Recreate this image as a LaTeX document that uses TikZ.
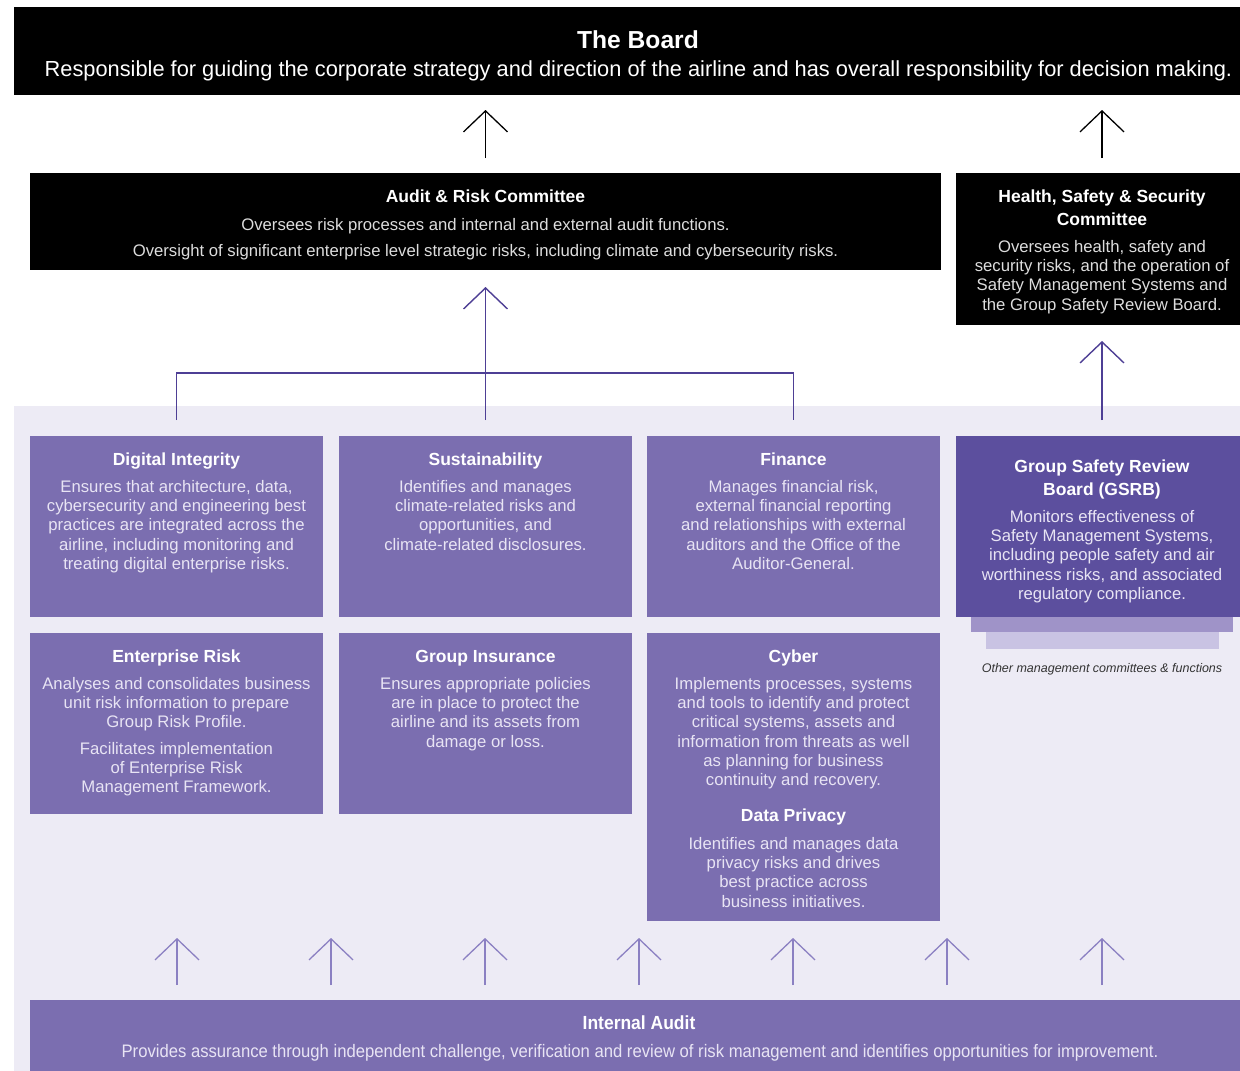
\documentclass[tikz,border=0pt]{standalone}
\usepackage{fontspec}
\setmainfont{Liberation Sans}
\newfontfamily\narrowfont[FakeStretch=0.92]{Liberation Sans}
\usetikzlibrary{arrows.meta}
\definecolor{lav}{HTML}{EDEBF5}
\definecolor{boxp}{HTML}{7B6EB0}
\definecolor{darkp}{HTML}{5C4F9E}
\definecolor{stackA}{HTML}{9F93C8}
\definecolor{stackB}{HTML}{C9C3E3}
\definecolor{connp}{HTML}{4E3F95}
\definecolor{lightconn}{HTML}{8B80C2}
\definecolor{ptext}{HTML}{E8E4F4}
\definecolor{btext}{HTML}{DDDDDD}
\definecolor{capgray}{HTML}{333333}
\tikzset{
  rect/.style={rectangle, inner sep=0pt, outer sep=0pt, anchor=north west, draw=none},
  ttl/.style={font=\bfseries\fontsize{17.5}{23}\selectfont, text=white, align=center, inner sep=0pt},
  bdy/.style={font=\fontsize{16.7}{19.3}\selectfont, text=ptext, align=center, inner sep=0pt, anchor=north},
  bdyk/.style={bdy, text=btext},
  tip/.style={-{Straight Barb[length=21pt,width=44pt]}},
  karrow/.style={tip, draw=black, line width=1.3pt},
  pconn/.style={draw=connp, line width=1.4pt},
  lconn/.style={tip, draw=lightconn, line width=1.3pt}
}
\begin{document}
\begin{tikzpicture}[x=1pt,y=-1pt]
\useasboundingbox (0,0) rectangle (1240,1071);
\fill[white] (0,0) rectangle (1240,1071);

% The Board
\node[rect, fill=black, minimum width=1248pt, minimum height=88pt] (board) at (14,7) {};
\node[font=\bfseries\fontsize{24.6}{30}\selectfont, text=white, anchor=base, inner sep=0pt] (boardT) at (638,48) {The Board};
\node[font=\fontsize{21.8}{26}\selectfont, text=white, anchor=base, inner sep=0pt] (boardS) at (638.5,76) {Responsible for guiding the corporate strategy and direction of the airline and has overall responsibility for decision making.};

% Audit & Risk Committee
\node[rect, fill=black, minimum width=911pt, minimum height=97pt] (arc) at (30,173) {};
\node[ttl, anchor=base] (arcT) at (485.5,202.3) {Audit \& Risk Committee};
\node[bdyk, font=\fontsize{16.7}{26}\selectfont] (arcB) at (485.5,218) {Oversees risk processes and internal and external audit functions.\\Oversight of significant enterprise level strategic risks, including climate and cybersecurity risks.};

% Health, Safety & Security Committee
\node[rect, fill=black, minimum width=292pt, minimum height=152pt] (hss) at (956,173) {};
\node[ttl, anchor=north] (hssT) at (1102,189.5) {Health, Safety \& Security\\Committee};
\node[bdyk] (hssB) at (1102,240) {Oversees health, safety and\\security risks, and the operation of\\Safety Management Systems and\\the Group Safety Review Board.};

% management area
\node[rect, fill=lav, minimum width=1234pt, minimum height=670pt] (mgmt) at (14,406) {};

% row 1
\node[rect, fill=boxp, minimum width=293pt, minimum height=181pt] (di) at (30,436) {};
\node[rect, fill=boxp, minimum width=293pt, minimum height=181pt] (su) at (339,436) {};
\node[rect, fill=boxp, minimum width=293pt, minimum height=181pt] (fi) at (647,436) {};
\node[rect, fill=stackB, minimum width=233pt, minimum height=17pt] (stk2) at (986,632) {};
\node[rect, fill=stackA, minimum width=262pt, minimum height=15pt] (stk1) at (971,617) {};
\node[rect, fill=darkp, minimum width=292pt, minimum height=181pt] (gsrb) at (956,436) {};

\node[ttl, anchor=base] (diT) at (176.5,465.3) {Digital Integrity};
\node[bdy] (diB) at (176.5,480) {Ensures that architecture, data,\\cybersecurity and engineering best\\practices are integrated across the\\airline, including monitoring and\\treating digital enterprise risks.};

\node[ttl, anchor=base] (suT) at (485.5,465.3) {Sustainability};
\node[bdy] (suB) at (485.5,480) {Identifies and manages\\climate-related risks and\\opportunities, and\\climate-related disclosures.};

\node[ttl, anchor=base] (fiT) at (793.5,465.3) {Finance};
\node[bdy] (fiB) at (793.5,480) {Manages financial risk,\\external financial reporting\\and relationships with external\\auditors and the Office of the\\Auditor-General.};

\node[ttl, anchor=north] (gsrbT) at (1102,459.5) {Group Safety Review\\Board (GSRB)};
\node[bdy] (gsrbB) at (1102,510) {Monitors effectiveness of\\Safety Management Systems,\\including people safety and air\\worthiness risks, and associated\\regulatory compliance.};

\node[font=\itshape\fontsize{12.5}{15}\selectfont, text=capgray, anchor=base, inner sep=0pt] (cap) at (1102,672.5) {Other management committees \& functions};

% row 2
\node[rect, fill=boxp, minimum width=293pt, minimum height=181pt] (er) at (30,633) {};
\node[rect, fill=boxp, minimum width=293pt, minimum height=181pt] (gi) at (339,633) {};
\node[rect, fill=boxp, minimum width=293pt, minimum height=288pt] (cy) at (647,633) {};

\node[ttl, anchor=base] (erT) at (176.5,662.3) {Enterprise Risk};
\node[bdy] (erB1) at (176.5,677) {Analyses and consolidates business\\unit risk information to prepare\\Group Risk Profile.};
\node[bdy] (erB2) at (176.5,742) {Facilitates implementation\\of Enterprise Risk\\Management Framework.};

\node[ttl, anchor=base] (giT) at (485.5,662.3) {Group Insurance};
\node[bdy] (giB) at (485.5,677) {Ensures appropriate policies\\are in place to protect the\\airline and its assets from\\damage or loss.};

\node[ttl, anchor=base] (cyT) at (793.5,662.3) {Cyber};
\node[bdy] (cyB) at (793.5,677) {Implements processes, systems\\and tools to identify and protect\\critical systems, assets and\\information from threats as well\\as planning for business\\continuity and recovery.};
\node[ttl, anchor=base] (dpT) at (793.5,821.3) {Data Privacy};
\node[bdy] (dpB) at (793.5,837) {Identifies and manages data\\privacy risks and drives\\best practice across\\business initiatives.};

% Internal Audit
\node[rect, fill=boxp, minimum width=1218pt, minimum height=80pt] (ia) at (30,1000) {};
\node[font=\narrowfont\bfseries\fontsize{19}{23}\selectfont, text=white, anchor=base, inner sep=0pt] (iaT) at (639,1029.8) {Internal Audit};
\node[font=\narrowfont\fontsize{18.1}{21}\selectfont, text=ptext, anchor=base, inner sep=0pt] (iaB) at (640,1057.3) {Provides assurance through independent challenge, verification and review of risk management and identifies opportunities for improvement.};

% connectors to the Board
\coordinate (bA) at (board.south -| arc.north);
\coordinate (bB) at (board.south -| hss.north);
\draw[karrow] ([yshift=15pt]arc.north) -- ([yshift=-15pt]bA);
\draw[karrow] ([yshift=15pt]hss.north) -- ([yshift=-15pt]bB);

% management to committees
\coordinate (bus) at (485.5,373);
\draw[pconn] ([yshift=16pt]di.north) |- (bus) -| ([yshift=16pt]fi.north);
\draw[pconn, tip] ([yshift=16pt]su.north) -- ([yshift=-17pt]arc.south);
\draw[pconn, tip] ([yshift=16pt]gsrb.north) -- ([yshift=-16pt]hss.south);

% internal audit arrows
\foreach \x [count=\i] in {177,331,485,639,793,947,1102} {
  \coordinate (iat\i) at (\x,938);
  \path (ia.north -| iat\i) coordinate (ias\i);
  \draw[lconn] ([yshift=15pt]ias\i) -- (iat\i);
}
\end{tikzpicture}
\end{document}
